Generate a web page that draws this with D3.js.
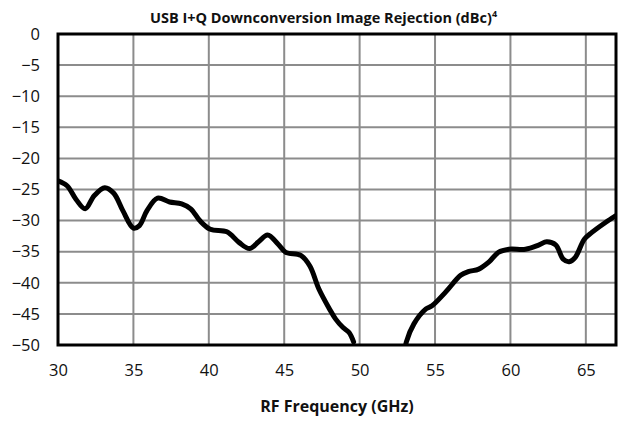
<!DOCTYPE html>
<html>
<head>
<meta charset="utf-8">
<script src="https://cdn.jsdelivr.net/npm/d3@7"></script>
<style>
	html, body { margin: 0; padding: 0; background: #fff; }
	svg text { font-family: 'Open Sans', sans-serif; fill: #111; }
</style>
</head>
<body>
<div id="chart"></div>
<script>
// ticks
const xTicks = [30, 35, 40, 45, 50, 55, 60, 65];
const yTicks = [0, -5, -10, -15, -20, -25, -30, -35, -40, -45, -50];

// image rejection curve, GHz / dBc (the two -51 points sit below the axis floor)
const freq = [
	30.0, 30.6, 31.2, 31.8, 32.4, 33.1, 33.7, 34.3, 35.0, 35.4, 35.9, 36.6, 37.4, 38.2, 38.8,
	39.4, 40.1, 41.2, 42.0, 42.7, 43.3, 43.9, 44.6, 45.1, 46.1, 46.7, 47.3, 48.0, 48.4, 48.9,
	49.3, 49.6, 49.9, 53.0, 53.1, 53.6, 54.4, 54.8, 55.7, 56.7, 57.2, 57.9, 58.6, 59.2, 59.9,
	61.0, 61.9, 62.4, 63.0, 63.5, 63.9, 64.3, 64.9, 65.4, 66.3, 67.0
];
const rejection = [
	-23.6, -24.4, -26.6, -28.1, -26.0, -24.7, -25.6, -28.4, -31.2, -30.8, -28.4, -26.4, -27.0, -27.3, -28.1,
	-30.0, -31.4, -31.8, -33.5, -34.5, -33.4, -32.3, -33.8, -35.1, -35.6, -37.3, -41.0, -44.2, -45.8, -47.2,
	-48.0, -49.5, -51.0, -51.0, -49.5, -46.6, -44.2, -43.7, -41.5, -38.8, -38.2, -37.8, -36.6, -35.1, -34.6,
	-34.6, -33.9, -33.4, -33.9, -36.2, -36.6, -35.9, -33.0, -31.9, -30.3, -29.2
];

const data = freq.map((f, i) => ({ f, v: rejection[i], gap: i === 32 }));

const width = 628;
const height = 421;
const margin = { top: 34, right: 12, bottom: 76, left: 58 };
const innerW = width - margin.left - margin.right;
const innerH = height - margin.top - margin.bottom;

const scaleX = d3.scaleLinear().domain([30, 67]).range([0, innerW]);
const scaleY = d3.scaleLinear().domain([-50, 0]).range([innerH, 0]);

const $svg = d3.select('#chart').append('svg')
	.attr('width', width)
	.attr('height', height);

$svg.append('defs').append('clipPath').attr('id', 'plot-clip')
	.append('rect').attr('width', innerW).attr('height', innerH);

const $g = $svg.append('g').attr('transform', `translate(${margin.left}, ${margin.top})`);

// grid
$g.append('g').selectAll('line').data(xTicks.slice(1)).join('line')
	.attr('x1', d => scaleX(d)).attr('x2', d => scaleX(d))
	.attr('y1', 0).attr('y2', innerH)
	.attr('stroke', '#8c8c8c').attr('stroke-width', 2);

$g.append('g').selectAll('line').data(yTicks.slice(1, -1)).join('line')
	.attr('x1', 0).attr('x2', innerW)
	.attr('y1', d => scaleY(d)).attr('y2', d => scaleY(d))
	.attr('stroke', '#8c8c8c').attr('stroke-width', 2);

// axes (labels only)
const axisX = d3.axisBottom(scaleX).tickValues(xTicks).tickSize(0).tickPadding(19);
const axisY = d3.axisLeft(scaleY).tickValues(yTicks).tickSize(0).tickPadding(18);

$g.append('g').attr('transform', `translate(0, ${innerH})`).call(axisX)
	.call(a => a.select('.domain').remove())
	.selectAll('text').attr('font-size', 16.5).attr('font-family', "'Open Sans', sans-serif").attr('fill', '#111');

$g.append('g').call(axisY)
	.call(a => a.select('.domain').remove())
	.selectAll('text').attr('font-size', 16.5).attr('font-family', "'Open Sans', sans-serif").attr('fill', '#111');

// curve
const line = d3.line()
	.defined(d => !d.gap)
	.x(d => scaleX(d.f))
	.y(d => scaleY(d.v))
	.curve(d3.curveCatmullRom.alpha(0.5));

$g.append('path')
	.datum(data)
	.attr('clip-path', 'url(#plot-clip)')
	.attr('d', line)
	.attr('fill', 'none')
	.attr('stroke', '#000')
	.attr('stroke-width', 5)
	.attr('stroke-linejoin', 'round')
	.attr('stroke-linecap', 'round');

// plot border
$g.append('rect')
	.attr('width', innerW).attr('height', innerH)
	.attr('fill', 'none').attr('stroke', '#000').attr('stroke-width', 3);

// titles
const $title = $svg.append('text')
	.attr('x', 150).attr('y', 23)
	.attr('font-size', 14.5).attr('font-weight', 'bold');
$title.append('tspan').text('USB I+Q Downconversion Image Rejection (dBc)');
$title.append('tspan').attr('font-size', 9).attr('dy', -6).text('4');

$svg.append('text')
	.attr('x', margin.left + innerW / 2).attr('y', 412)
	.attr('text-anchor', 'middle')
	.attr('font-size', 16).attr('font-weight', 'bold')
	.text('RF Frequency (GHz)');
</script>
</body>
</html>
